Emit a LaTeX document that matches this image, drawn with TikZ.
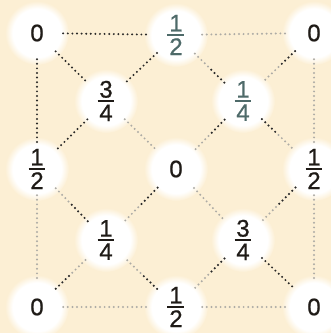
\documentclass[tikz,border=0pt]{standalone}
\usepackage{fontspec}
\setmainfont{Liberation Sans}[FakeBold=0.7]
\usetikzlibrary{calc,backgrounds}
\definecolor{bg}{HTML}{FCEFD4}
\definecolor{ink}{HTML}{1F1B17}
\definecolor{tealink}{HTML}{4E6A69}
\definecolor{darkdot}{HTML}{2B2A28}
\definecolor{greydot}{HTML}{ADABA5}
\pgfdeclareradialshading{glow}{\pgfpoint{0bp}{0bp}}{color(0bp)=(white);color(19bp)=(white);color(25bp)=(bg);color(50bp)=(bg)}
\newcommand\fr[2]{$\vcenter{\hbox to 17pt{\hfil#1\hfil}\kern2.2pt\hrule height 2.4pt\kern2.2pt\hbox to 17pt{\hfil#2\hfil}}$}
\newcommand\hd[2]{\draw[dotg] (#1) -- (#2); \draw[dotd] (#1) -- ($(#1)!0.5!(#2)$);}
\tikzset{
  val/.style={circle, minimum size=52pt, inner sep=0pt, text=ink, font=\fontsize{24}{27}\selectfont},
  dotbase/.style={line width=2.2pt, line cap=round, dash pattern=on 0pt off 4.6pt},
  dotg/.style={dotbase, draw=greydot},
  dotd/.style={dotbase, draw=darkdot}
}
\begin{document}
\begin{tikzpicture}[x=1pt,y=1pt]
\useasboundingbox (0,0) rectangle (331,333);
\node[val] (tl) at (37,300) {0};
\node[val, text=tealink] (t) at (176,298) {\fr{1}{2}};
\node[val] (tr) at (314,300) {0};
\node[val] (q1) at (106,232) {\fr{3}{4}};
\node[val, text=tealink] (q2) at (243,232) {\fr{1}{4}};
\node[val] (l) at (37,164) {\fr{1}{2}};
\node[val] (c) at (176,164) {0};
\node[val] (r) at (314,164) {\fr{1}{2}};
\node[val] (q3) at (106,93) {\fr{1}{4}};
\node[val] (q4) at (243,93) {\fr{3}{4}};
\node[val] (bl) at (37,26) {0};
\node[val] (b) at (176,26) {\fr{1}{2}};
\node[val] (br) at (314,26) {0};
\begin{scope}[on background layer]
  \fill[bg] (0,0) rectangle (331,333);
  \foreach \n in {tl,t,tr,q1,q2,l,c,r,q3,q4,bl,b,br}
    \shade[shading=glow] (\n.center) circle (32pt);
\end{scope}
% fully dark
\draw[dotd] (tl) -- (t);
\draw[dotd] (tl) -- (l);
\draw[dotd] (tl) -- (q1);
\draw[dotd] (t) -- (q1);
\draw[dotd] (q1) -- (l);
\draw[dotd] (q4) -- (br);
% fully grey
\draw[dotg] (t) -- (tr);
\draw[dotg] (l) -- (bl);
\draw[dotg] (tr) -- (r);
\draw[dotg] (r) -- (br);
\draw[dotg] (bl) -- (b);
\draw[dotg] (b) -- (br);
\draw[dotg] (q1) -- (c);
\draw[dotg] (c) -- (q4);
% half dark (dark near first)
\hd{q2}{t}
\hd{tr}{q2}
\hd{q2}{c}
\hd{q2}{r}
\hd{q3}{l}
\hd{c}{q3}
\hd{r}{q4}
\hd{bl}{q3}
\hd{b}{q3}
\hd{q4}{b}
\end{tikzpicture}
\end{document}
